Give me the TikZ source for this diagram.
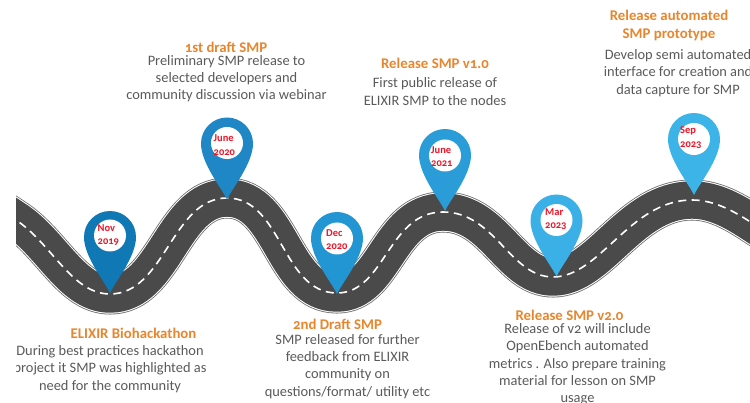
\documentclass[tikz,border=0pt]{standalone}
\usepackage{fontspec}
\setmainfont[Numbers=OldStyle]{Carlito}
\definecolor{roadc}{HTML}{4A4A4A}
\definecolor{edgec}{HTML}{6A6A6A}
\definecolor{titlec}{HTML}{E8862E}
\definecolor{bodyc}{HTML}{5A5A5A}
\definecolor{datec}{HTML}{EE1528}
\definecolor{pina}{HTML}{0F78B5}
\definecolor{pinb}{HTML}{1F87C6}
\definecolor{pinc}{HTML}{2196D3}
\definecolor{pind}{HTML}{2A9DD8}
\definecolor{pine}{HTML}{3BB0E6}
\definecolor{pinf}{HTML}{3DB4E8}
\tikzset{
  titletext/.style={inner sep=0pt,align=center,text=titlec,font=\fontsize{14.8}{17.3}\selectfont\bfseries},
  bodytext/.style={inner sep=0pt,align=center,text=bodyc,font=\fontsize{14.4}{17.3}\selectfont},
  datetext/.style={inner sep=0pt,anchor=west,align=left,text=datec,font=\fontsize{10.5}{13.3}\selectfont\bfseries},
  pinbody/.style={fill=#1,draw=none},
  pinhole/.style={circle,fill=white,draw=none,minimum size=32pt,inner sep=0pt},
  pics/mappin/.style={code={
    \path[pinbody=#1] (0,56) .. controls (-5,45) and (-26,20) .. (-26,0)
      .. controls (-26,-14.36) and (-14.36,-26) .. (0,-26)
      .. controls (14.36,-26) and (26,-14.36) .. (26,0)
      .. controls (26,20) and (5,45) .. (0,56) -- cycle;
  }}
}
\def\roadpath{(-14,200) -- (16,220) .. controls (52,244) and (72,294) .. (110,294)
  .. controls (165,294) and (172,198) .. (227,198)
  .. controls (282,198) and (282,293) .. (337,293)
  .. controls (385,293) and (388,212) .. (443,212)
  .. controls (495,212) and (510,277) .. (553,277)
  .. controls (600,277) and (630,200) .. (692,200)
  .. controls (715,200) and (735,212) .. (752,223) -- (790,247.6)}
\begin{document}
\begin{tikzpicture}[x=1pt,y=-1pt]
\useasboundingbox (0,0) rectangle (750,403);
\fill[white] (0,0) rectangle (750,403);
\begin{scope}
  \clip (16,0) rectangle (750,403);
  \draw[edgec,line width=41pt] \roadpath;
  \draw[white,line width=39.4pt] \roadpath;
  \draw[roadc,line width=37.4pt] \roadpath;
  \draw[white,line width=1.6pt,dash pattern=on 8pt off 5.5pt] \roadpath;
  \node[bodytext] (bodya) at (110,369) {During best practices hackathon\\project it SMP was highlighted as\\need for the community};
\end{scope}
\pic at (110,237) {mappin=pina};
\pic at (227,143.5) {mappin=pinb};
\pic at (337,238) {mappin=pinc};
\pic at (445,155) {mappin=pind};
\pic at (556.5,220.5) {mappin=pine};
\pic at (694,139) {mappin=pinf};
\node[pinhole] (hola) at (110,235.5) {};
\node[pinhole] (holb) at (227,143) {};
\node[pinhole] (holc) at (337,238.5) {};
\node[pinhole] (hold) at (445,155.5) {};
\node[pinhole] (hole) at (556.5,220) {};
\node[pinhole] (holf) at (694,139) {};
\node[datetext] (datea) at (97.5,235) {Nov\\2019};
\node[datetext] (dateb) at (213.5,145) {June\\2020};
\node[datetext] (datec) at (326,239.5) {Dec\\2020};
\node[datetext] (dated) at (431,156.5) {June\\2021};
\node[datetext] (datee) at (545,219.5) {Mar\\2023};
\node[datetext] (datef) at (680,137.5) {Sep\\2023};
\node[titletext] (titlea) at (133.5,333) {ELIXIR Biohackathon};
\node[titletext] (titleb) at (226,47) {1st draft SMP};
\node[bodytext] (bodyb) at (226.5,78.5) {Preliminary SMP release to\\selected developers and\\community discussion via webinar};
\node[titletext] (titlec) at (337.5,324) {2nd Draft SMP};
\node[bodytext] (bodyc) at (347.5,366.5) {SMP released for further\\feedback from ELIXIR\\community on\\questions/format/ utility etc};
\node[titletext] (titled) at (435,63) {Release SMP v1.0};
\node[bodytext] (bodyd) at (435,91.5) {First public release of\\ELIXIR SMP to the nodes};
\node[titletext] (titlee) at (569.5,315) {Release SMP v2.0};
\node[bodytext] (bodye) at (577.5,364.5) {Release of v2 will include\\OpenEbench automated\\metrics . Also prepare training\\material for lesson on SMP\\usage};
\node[titletext] (titlef) at (669,25.5) {Release automated\\SMP prototype};
\node[bodytext] (bodyf) at (678,73) {Develop semi automated\\interface for creation and\\data capture for SMP};
\end{tikzpicture}
\end{document}
